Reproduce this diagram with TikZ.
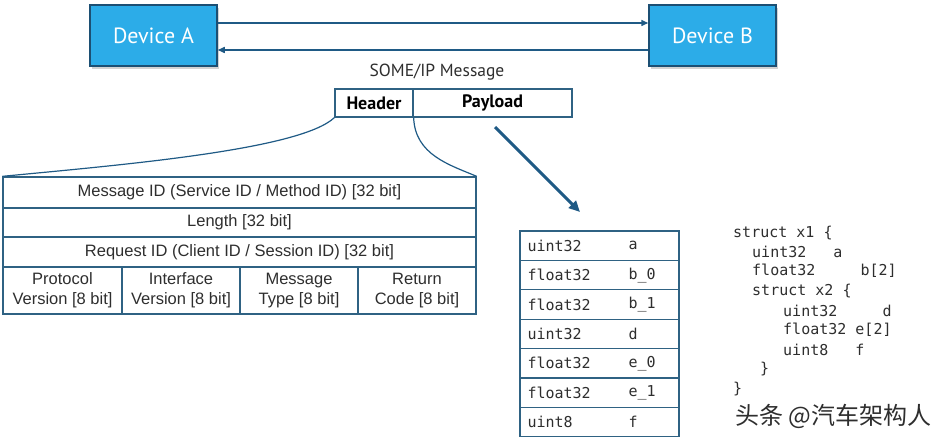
\documentclass[tikz,border=0pt]{standalone}
\usepackage{fontspec}
\setmainfont{Liberation Sans}
\setmonofont{DejaVu Sans Mono}
\newfontfamily\narrowfont{PT Sans}
\newfontfamily\cjkfont{Noto Sans CJK SC}
\usepackage{xcolor}
\usepackage{tikz}
\usetikzlibrary{arrows.meta,shadows}

\definecolor{devblue}{HTML}{2CACE8}
\definecolor{devedge}{HTML}{1C4F73}
\definecolor{linkblue}{HTML}{1F5A85}
\definecolor{cellblue}{HTML}{2F6283}
\definecolor{textgray}{HTML}{2E2E2E}

\tikzset{
    devbox/.style={draw=devedge, line width=1.5pt, fill=devblue, minimum width=127pt, minimum height=61pt,
        text=white, font=\narrowfont\fontsize{22}{24}\selectfont,
        drop shadow={shadow xshift=2pt, shadow yshift=-3pt, opacity=0.35}},
    msgcell/.style={draw=cellblue, line width=1.3pt, minimum height=28pt, inner sep=0pt,
        font=\narrowfont\bfseries\fontsize{18}{20}\selectfont, text=black},
    hdrcell/.style={draw=cellblue, line width=1.3pt, inner sep=0pt, align=center,
        text=textgray, font=\fontsize{16.5}{20}\selectfont},
    paycell/.style={draw=cellblue, line width=1.3pt, minimum width=159pt, minimum height=29.4pt, inner sep=0pt},
    codetext/.style={anchor=west, inner sep=0pt, text=textgray, font=\ttfamily\fontsize{15}{18}\selectfont},
    link/.style={draw=linkblue, line width=1.5pt, -{Triangle[length=7pt,width=6pt]}}
}

\begin{document}
\begin{tikzpicture}[x=1pt, y=-1pt]
    \useasboundingbox (0,0) rectangle (945,443);

    % devices
    \node[devbox] (devA) at (153.5,35.5) {Device A};
    \node[devbox] (devB) at (712.5,35.5) {Device B};
    \draw[link] ([yshift=12.5pt]devA.east) -- ([yshift=12.5pt]devB.west);
    \draw[link] ([yshift=-14.5pt]devB.west) -- ([yshift=-14.5pt]devA.east);

    % SOME/IP message
    \node[font=\narrowfont\fontsize{17.5}{20}\selectfont, text=textgray] (msg) at (437,72) {SOME/IP Message};
    \node[msgcell, minimum width=78pt] (header) at (374,103) {Header};
    \node[msgcell, minimum width=159pt] (payload) at (492.5,103) {Payload};

    % header fields
    \node[hdrcell, minimum width=473pt, minimum height=31pt] (msgid) at (239.5,192.5) {Message ID (Service ID / Method ID) [32 bit]};
    \node[hdrcell, minimum width=473pt, minimum height=29pt] (len) at (239.5,222.5) {Length [32 bit]};
    \node[hdrcell, minimum width=473pt, minimum height=30pt] (reqid) at (239.5,252) {Request ID (Client ID / Session ID) [32 bit]};
    \node[hdrcell, minimum width=119pt, minimum height=47pt] (proto) at (62.5,290.5) {Protocol\\Version [8 bit]};
    \node[hdrcell, minimum width=118pt, minimum height=47pt] (iface) at (181,290.5) {Interface\\Version [8 bit]};
    \node[hdrcell, minimum width=118pt, minimum height=47pt] (mtype) at (299,290.5) {Message\\Type [8 bit]};
    \node[hdrcell, minimum width=118pt, minimum height=47pt] (retcode) at (417,290.5) {Return\\Code [8 bit]};

    \draw[linkblue, line width=1.2pt] (header.south west) .. controls (300,150) and (120,165) .. (msgid.north west);
    \draw[linkblue, line width=1.2pt] (header.south east) .. controls (415,155) and (450,165) .. (msgid.north east);

    % payload layout
    \coordinate (pstart) at (495,127);
    \coordinate (pend) at (580,212);
    \draw[draw=linkblue, line width=3pt, -{Triangle[length=11pt,width=10pt]}] (pstart) -- (pend);

    \foreach \t/\n [count=\i] in {uint32/a, float32/b\_0, float32/b\_1, uint32/d, float32/e\_0, float32/e\_1, uint8/f} {
        \node[paycell] (prow\i) at (599.5,{231+29.4*(\i-0.5)}) {};
        \node[codetext] (ptype\i) at ([xshift=8pt]prow\i.west) {\t};
        \node[codetext] (pname\i) at ([xshift=109pt]prow\i.west) {\n};
    }

    % struct definition
    \node[codetext] (c1) at (733,233) {struct x1 \{};
    \node[codetext] (c2) at (752,252) {uint32~~~a};
    \node[codetext] (c3) at (752,271) {float32~~~~~b[2]};
    \node[codetext] (c4) at (752,291) {struct x2 \{};
    \node[codetext] (c5) at (783,311) {uint32~~~~~d};
    \node[codetext] (c6) at (783,330) {float32 e[2]};
    \node[codetext] (c7) at (783,350) {uint8~~~f};
    \node[codetext] (c8) at (760,369) {\}};
    \node[codetext] (c9) at (733,389) {\}};

    \node[anchor=west, inner sep=0pt, text=textgray, font=\cjkfont\fontsize{24}{26}\selectfont] (mark) at (735,416) {头条 @汽车架构人};
\end{tikzpicture}
\end{document}
